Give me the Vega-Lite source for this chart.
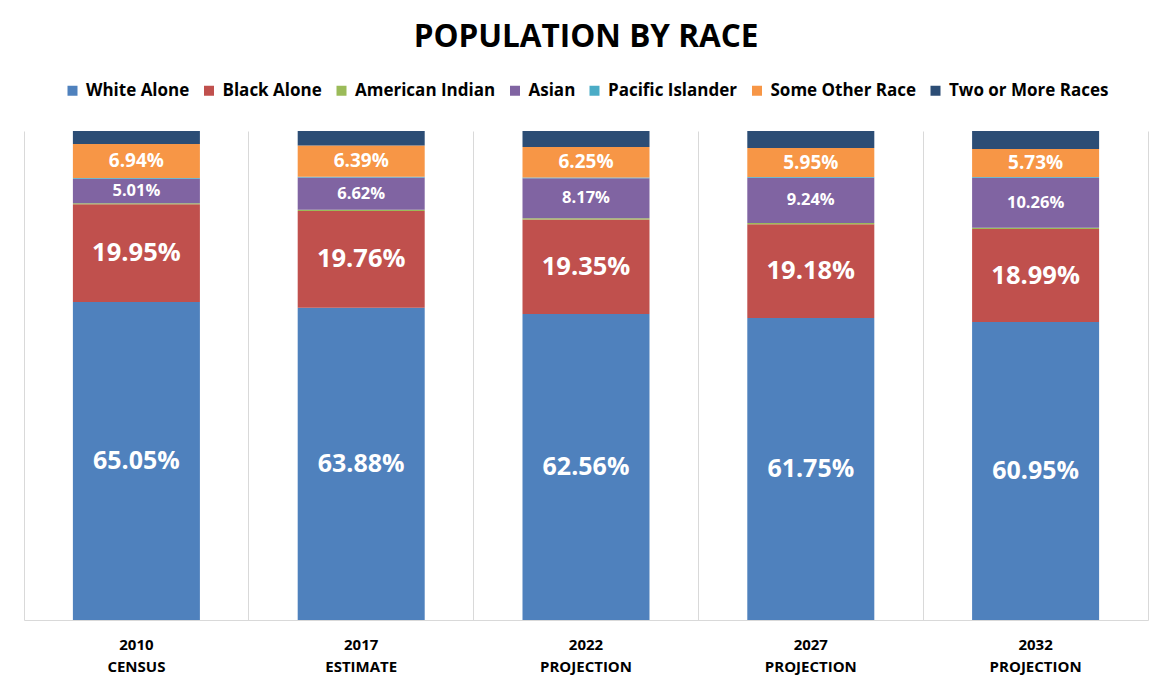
{
  "$schema": "https://vega.github.io/schema/vega-lite/v6.json",
  "width": 1124,
  "height": 489,
  "autosize": {"type": "none"},
  "padding": {"left": 24, "top": 131, "right": 25, "bottom": 72},
  "background": "white",
  "title": {
    "text": "POPULATION BY RACE",
    "font": "Open Sans",
    "fontSize": 31.5,
    "fontWeight": "bold",
    "color": "#000000",
    "anchor": "middle",
    "offset": 29
  },
  "config": {
    "font": "Open Sans",
    "view": {"stroke": null}
  },
  "data": {
    "values": [
      {"year": "2010 CENSUS", "race": "White Alone", "ord": 1, "value": 0.6505},
      {"year": "2010 CENSUS", "race": "Black Alone", "ord": 2, "value": 0.1995},
      {"year": "2010 CENSUS", "race": "American Indian", "ord": 3, "value": 0.0025},
      {"year": "2010 CENSUS", "race": "Asian", "ord": 4, "value": 0.0501},
      {"year": "2010 CENSUS", "race": "Pacific Islander", "ord": 5, "value": 0.0015},
      {"year": "2010 CENSUS", "race": "Some Other Race", "ord": 6, "value": 0.0694},
      {"year": "2010 CENSUS", "race": "Two or More Races", "ord": 7, "value": 0.0265},
      {"year": "2017 ESTIMATE", "race": "White Alone", "ord": 1, "value": 0.6388},
      {"year": "2017 ESTIMATE", "race": "Black Alone", "ord": 2, "value": 0.1976},
      {"year": "2017 ESTIMATE", "race": "American Indian", "ord": 3, "value": 0.0025},
      {"year": "2017 ESTIMATE", "race": "Asian", "ord": 4, "value": 0.0662},
      {"year": "2017 ESTIMATE", "race": "Pacific Islander", "ord": 5, "value": 0.0015},
      {"year": "2017 ESTIMATE", "race": "Some Other Race", "ord": 6, "value": 0.0639},
      {"year": "2017 ESTIMATE", "race": "Two or More Races", "ord": 7, "value": 0.0295},
      {"year": "2022 PROJECTION", "race": "White Alone", "ord": 1, "value": 0.6256},
      {"year": "2022 PROJECTION", "race": "Black Alone", "ord": 2, "value": 0.1935},
      {"year": "2022 PROJECTION", "race": "American Indian", "ord": 3, "value": 0.0025},
      {"year": "2022 PROJECTION", "race": "Asian", "ord": 4, "value": 0.0817},
      {"year": "2022 PROJECTION", "race": "Pacific Islander", "ord": 5, "value": 0.0015},
      {"year": "2022 PROJECTION", "race": "Some Other Race", "ord": 6, "value": 0.0625},
      {"year": "2022 PROJECTION", "race": "Two or More Races", "ord": 7, "value": 0.0327},
      {"year": "2027 PROJECTION", "race": "White Alone", "ord": 1, "value": 0.6175},
      {"year": "2027 PROJECTION", "race": "Black Alone", "ord": 2, "value": 0.1918},
      {"year": "2027 PROJECTION", "race": "American Indian", "ord": 3, "value": 0.0025},
      {"year": "2027 PROJECTION", "race": "Asian", "ord": 4, "value": 0.0924},
      {"year": "2027 PROJECTION", "race": "Pacific Islander", "ord": 5, "value": 0.0015},
      {"year": "2027 PROJECTION", "race": "Some Other Race", "ord": 6, "value": 0.0595},
      {"year": "2027 PROJECTION", "race": "Two or More Races", "ord": 7, "value": 0.0348},
      {"year": "2032 PROJECTION", "race": "White Alone", "ord": 1, "value": 0.6095},
      {"year": "2032 PROJECTION", "race": "Black Alone", "ord": 2, "value": 0.1899},
      {"year": "2032 PROJECTION", "race": "American Indian", "ord": 3, "value": 0.0025},
      {"year": "2032 PROJECTION", "race": "Asian", "ord": 4, "value": 0.1026},
      {"year": "2032 PROJECTION", "race": "Pacific Islander", "ord": 5, "value": 0.0015},
      {"year": "2032 PROJECTION", "race": "Some Other Race", "ord": 6, "value": 0.0573},
      {"year": "2032 PROJECTION", "race": "Two or More Races", "ord": 7, "value": 0.0367}
    ]
  },
  "encoding": {
    "x": {
      "field": "year",
      "type": "nominal",
      "sort": null,
      "scale": {"paddingInner": 0, "paddingOuter": 0},
      "axis": {
        "title": null,
        "labelAngle": 0,
        "labelExpr": "split(datum.value, ' ')",
        "labelFont": "Open Sans",
        "labelFontSize": 15,
        "labelFontWeight": "bold",
        "labelColor": "#000000",
        "labelLineHeight": 22,
        "labelPadding": 17,
        "labelBaseline": "top",
        "ticks": false,
        "grid": true,
        "gridColor": "#D9D9D9",
        "gridWidth": 1,
        "bandPosition": 0,
        "domainColor": "#D9D9D9",
        "domainWidth": 1
      }
    }
  },
  "layer": [
    {
      "mark": {"type": "bar", "width": {"band": 0.565}},
      "encoding": {
        "y": {
          "field": "value",
          "type": "quantitative",
          "stack": "zero",
          "scale": {"domain": [0, 1], "nice": false},
          "axis": {
            "orient": "right",
            "title": null,
            "labels": false,
            "ticks": false,
            "grid": false,
            "domainColor": "#D9D9D9",
            "domainWidth": 1
          }
        },
        "color": {
          "field": "race",
          "type": "nominal",
          "scale": {
            "domain": ["White Alone", "Black Alone", "American Indian", "Asian", "Pacific Islander", "Some Other Race", "Two or More Races"],
            "range": ["#4F81BD", "#C0504D", "#9BBB59", "#8064A2", "#4BACC6", "#F79646", "#2C4D75"]
          },
          "legend": {
            "title": null,
            "orient": "none",
            "direction": "horizontal",
            "columns": 7,
            "legendX": 40,
            "legendY": -49,
            "symbolType": "square",
            "symbolSize": 100,
            "symbolStrokeWidth": 0,
            "symbolOpacity": 1,
            "labelFont": "Open Sans",
            "labelFontSize": 17,
            "labelFontWeight": "bold",
            "labelColor": "#000000",
            "labelOffset": 5,
            "columnPadding": 10.5,
            "labelLimit": 300
          }
        },
        "order": {"field": "ord", "type": "quantitative"}
      }
    },
    {
      "transform": [
        {"stack": "value", "groupby": ["year"], "sort": [{"field": "ord", "order": "ascending"}], "as": ["y0", "y1"]},
        {"filter": {"field": "race", "oneOf": ["White Alone", "Black Alone", "Asian", "Some Other Race"]}},
        {"fold": ["y0", "y1"], "as": ["k", "pos"]}
      ],
      "mark": {"type": "text", "color": "white", "fontWeight": "bold", "font": "Open Sans", "baseline": "middle", "align": "center"},
      "encoding": {
        "y": {"aggregate": "mean", "field": "pos", "type": "quantitative", "stack": null},
        "text": {"field": "value", "type": "quantitative", "format": ".2%"},
        "detail": {"field": "race", "type": "nominal"},
        "size": {
          "condition": [
            {"test": "datum.race === 'White Alone'", "value": 25},
            {"test": "datum.race === 'Black Alone'", "value": 25.5},
            {"test": "datum.race === 'Some Other Race'", "value": 19}
          ],
          "value": 16.5
        }
      }
    }
  ]
}
